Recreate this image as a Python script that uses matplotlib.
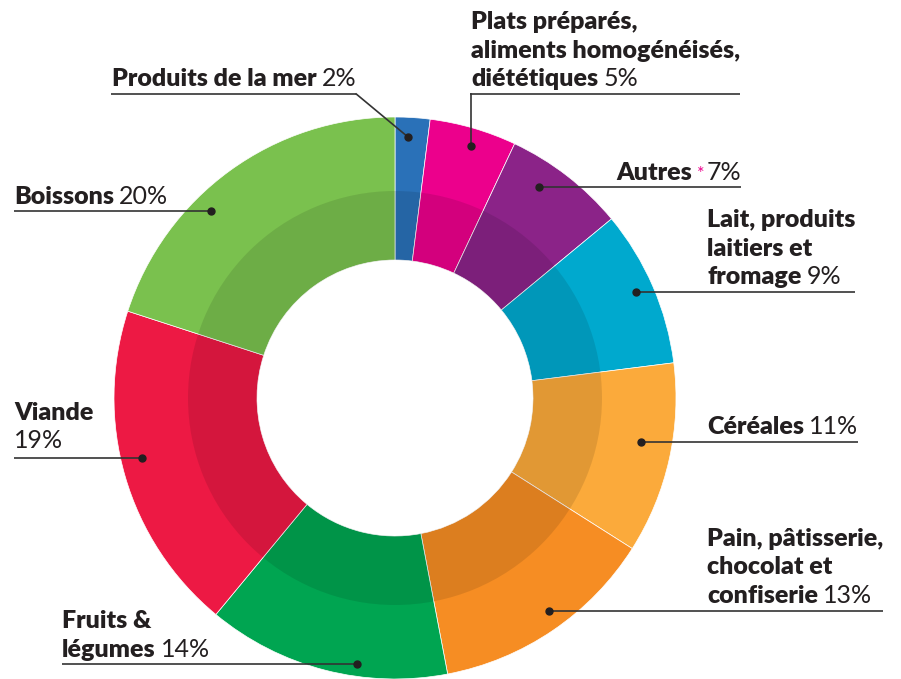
import matplotlib
matplotlib.use("Agg")
import matplotlib.pyplot as plt

# parts of food spending, clockwise from 12 o'clock
categories = ["Produits de la mer",
              "Plats préparés,\naliments homogénéisés,\ndiététiques",
              "Autres",
              "Lait, produits\nlaitiers et\nfromage",
              "Céréales",
              "Pain, pâtisserie,\nchocolat et\nconfiserie",
              "Fruits &\nlégumes",
              "Viande\n",
              "Boissons"]
shares = [2, 5, 7, 9, 11, 13, 14, 19, 20]
pct_labels = [f"{v}%" for v in shares]
colors = ["#2A71B8", "#EC008C", "#8B2388", "#00A9CE", "#FBAA3B",
          "#F68D23", "#00A551", "#ED1944", "#7AC14E"]

W, H = 901, 679
fig = plt.figure(figsize=(W / 100, H / 100), dpi=100)
ax = fig.add_axes([0, 0, 1, 1])

cx, cy = 395, H - 398
R, R_in, R_hole = 281, 207, 138
ax.pie(shares, colors=colors, startangle=90, counterclock=False, radius=R,
       center=(cx, cy), wedgeprops=dict(width=R - R_hole, edgecolor="white", linewidth=0.5))
# darker inner band
ax.pie([1], colors=["black"], radius=R_in, center=(cx, cy),
       wedgeprops=dict(width=R_in - R_hole, alpha=0.1, linewidth=0))
ax.set_xlim(0, W)
ax.set_ylim(0, H)
ax.set_aspect("equal")
ax.axis("off")

TXT = "#231F20"
FS = 18
LS = 28.5
FONT = "Lato"

# text x, last baseline y, underline y, dot (x, y), where the leader leaves the underline
layout = [
    (112, 86, 94, (408, 137), "right"),
    (471, 86, 94, (471, 146), "left"),
    (616, 180, 187, (539, 187), None),
    (707, 284, 292, (636, 292), None),
    (707, 434, 442, (641, 442), None),
    (707, 603, 611, (549, 611), None),
    (62, 657, 664, (357, 664), None),
    (14, 448, 458, (142, 458), None),
    (14, 204, 211, (211, 211), None),
]

fig.canvas.draw()
rend = fig.canvas.get_renderer()


def width(t):
    return t.get_window_extent(renderer=rend).width


for name, pct, (tx, base, uy, dot, leave) in zip(categories, pct_labels, layout):
    lines = name.split("\n")
    n = len(lines)
    right = tx
    x = tx
    for i, line in enumerate(lines):
        yb = base - (n - 1 - i) * LS
        t = ax.text(tx, H - yb, line, fontsize=FS, fontweight="heavy", family=FONT,
                    color=TXT, va="baseline", ha="left")
        w = width(t) if line else 0
        right = max(right, tx + w)
        if i == n - 1:
            x = tx + w + (5 if line else 0)
    if name == "Autres":
        s = ax.text(x, H - base + 1, "*", fontsize=13, color="#EC008C", family=FONT,
                    va="baseline", ha="left")
        x += width(s) + 2
    p = ax.text(x, H - base, pct, fontsize=FS, fontweight="normal", family=FONT,
                color=TXT, va="baseline", ha="left")
    right = max(right, x + width(p))

    if leave is None:
        x0, x1 = min(tx, dot[0]), max(right, dot[0])
        ax.plot([x0, x1], [H - uy, H - uy], color="#333333", lw=1.2, solid_capstyle="butt")
    else:
        ax.plot([tx - 1, right], [H - uy, H - uy], color="#333333", lw=1.2, solid_capstyle="butt")
        ax0 = right if leave == "right" else tx
        ax.plot([ax0, dot[0]], [H - uy, H - dot[1]], color="#333333", lw=1.2)
    ax.plot(dot[0], H - dot[1], "o", color=TXT, ms=5)

fig.savefig("out.png", dpi=100)
